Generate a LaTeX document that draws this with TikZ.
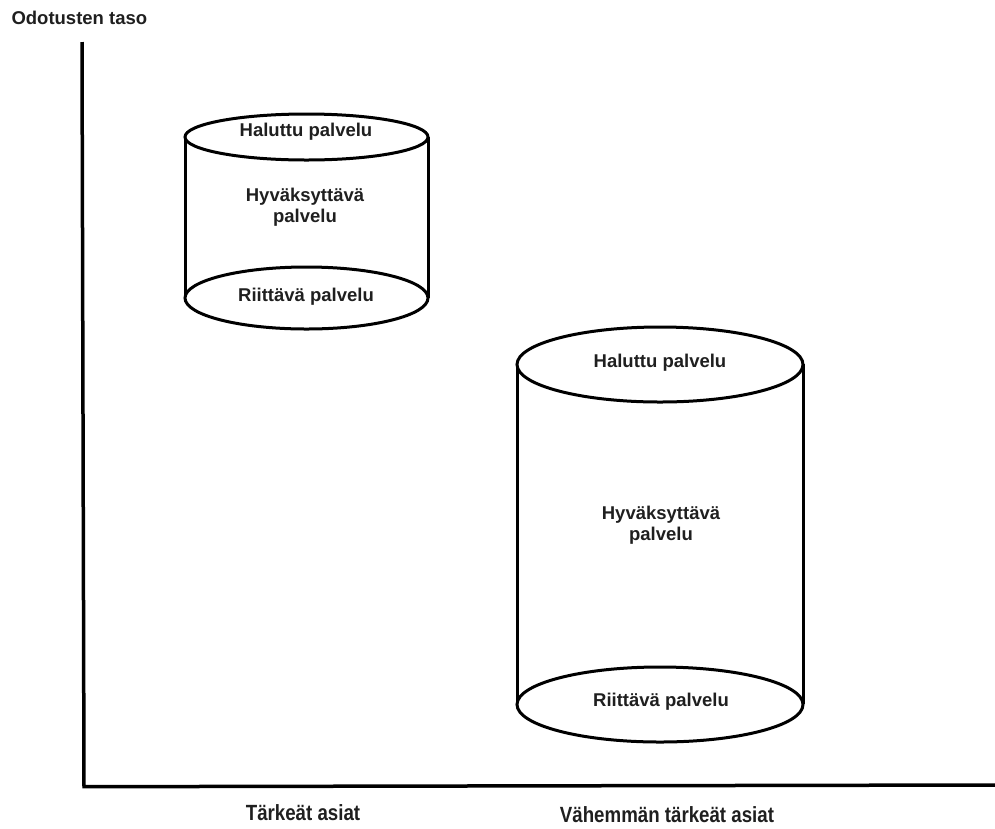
\documentclass[tikz,border=0pt]{standalone}
\usepackage{fontspec}
\setmainfont{Liberation Sans}
\newfontfamily\narrowfont[FakeStretch=0.85]{Liberation Sans}
\usetikzlibrary{shapes.geometric}
\begin{document}
\begin{tikzpicture}[x=1pt,y=1pt,
  lbl/.style={font=\bfseries\fontsize{18.5}{21.5}\selectfont, text=black!88, align=center},
  axlbl/.style={font=\narrowfont\bfseries\fontsize{22}{24}\selectfont, text=black!88},
  cyl/.style={draw, line width=3pt, ellipse, inner sep=0pt, fill=white, lbl},
  axisline/.style={line width=3.5pt}
]
\useasboundingbox (0,0) rectangle (995,-828);
% axes
\coordinate (ytop) at (82,-42);
\coordinate (orig) at (84,-785);
\coordinate (xend) at (995,-785);
\draw[axisline] (ytop) -- (orig |- 0,-786.7) -- (xend);
\node[lbl, anchor=west] (ylab) at (8,-18) {Odotusten taso};
\node[axlbl] (x1) at (303,-813) {Tärkeät asiat};
\node[axlbl] (x2) at (667,-815) {Vähemmän tärkeät asiat};

% cylinder 1
\draw[line width=3pt] (185,-137) -- (185,-298) (428,-137) -- (428,-298);
\node[cyl, minimum width=243pt, minimum height=46pt] (top1) at (306.5,-137) {};
\node[cyl, minimum width=243pt, minimum height=62pt] (bot1) at (306.5,-298) {};
\node[lbl] (t1) at (306,-132) {Haluttu palvelu};
\node[lbl] (m1) at (305,-207) {Hyväksyttävä\\palvelu};
\node[lbl] (b1) at (306,-297) {Riittävä palvelu};

% cylinder 2
\draw[line width=3pt] (517,-364) -- (517,-704) (803,-364) -- (803,-704);
\node[cyl, minimum width=286pt, minimum height=75pt] (top2) at (660,-364.5) {};
\node[cyl, minimum width=286pt, minimum height=75pt] (bot2) at (660,-704.5) {};
\node[lbl] (t2) at (660,-363) {Haluttu palvelu};
\node[lbl] (m2) at (661,-525) {Hyväksyttävä\\palvelu};
\node[lbl] (b2) at (661,-702) {Riittävä palvelu};
\end{tikzpicture}
\end{document}
